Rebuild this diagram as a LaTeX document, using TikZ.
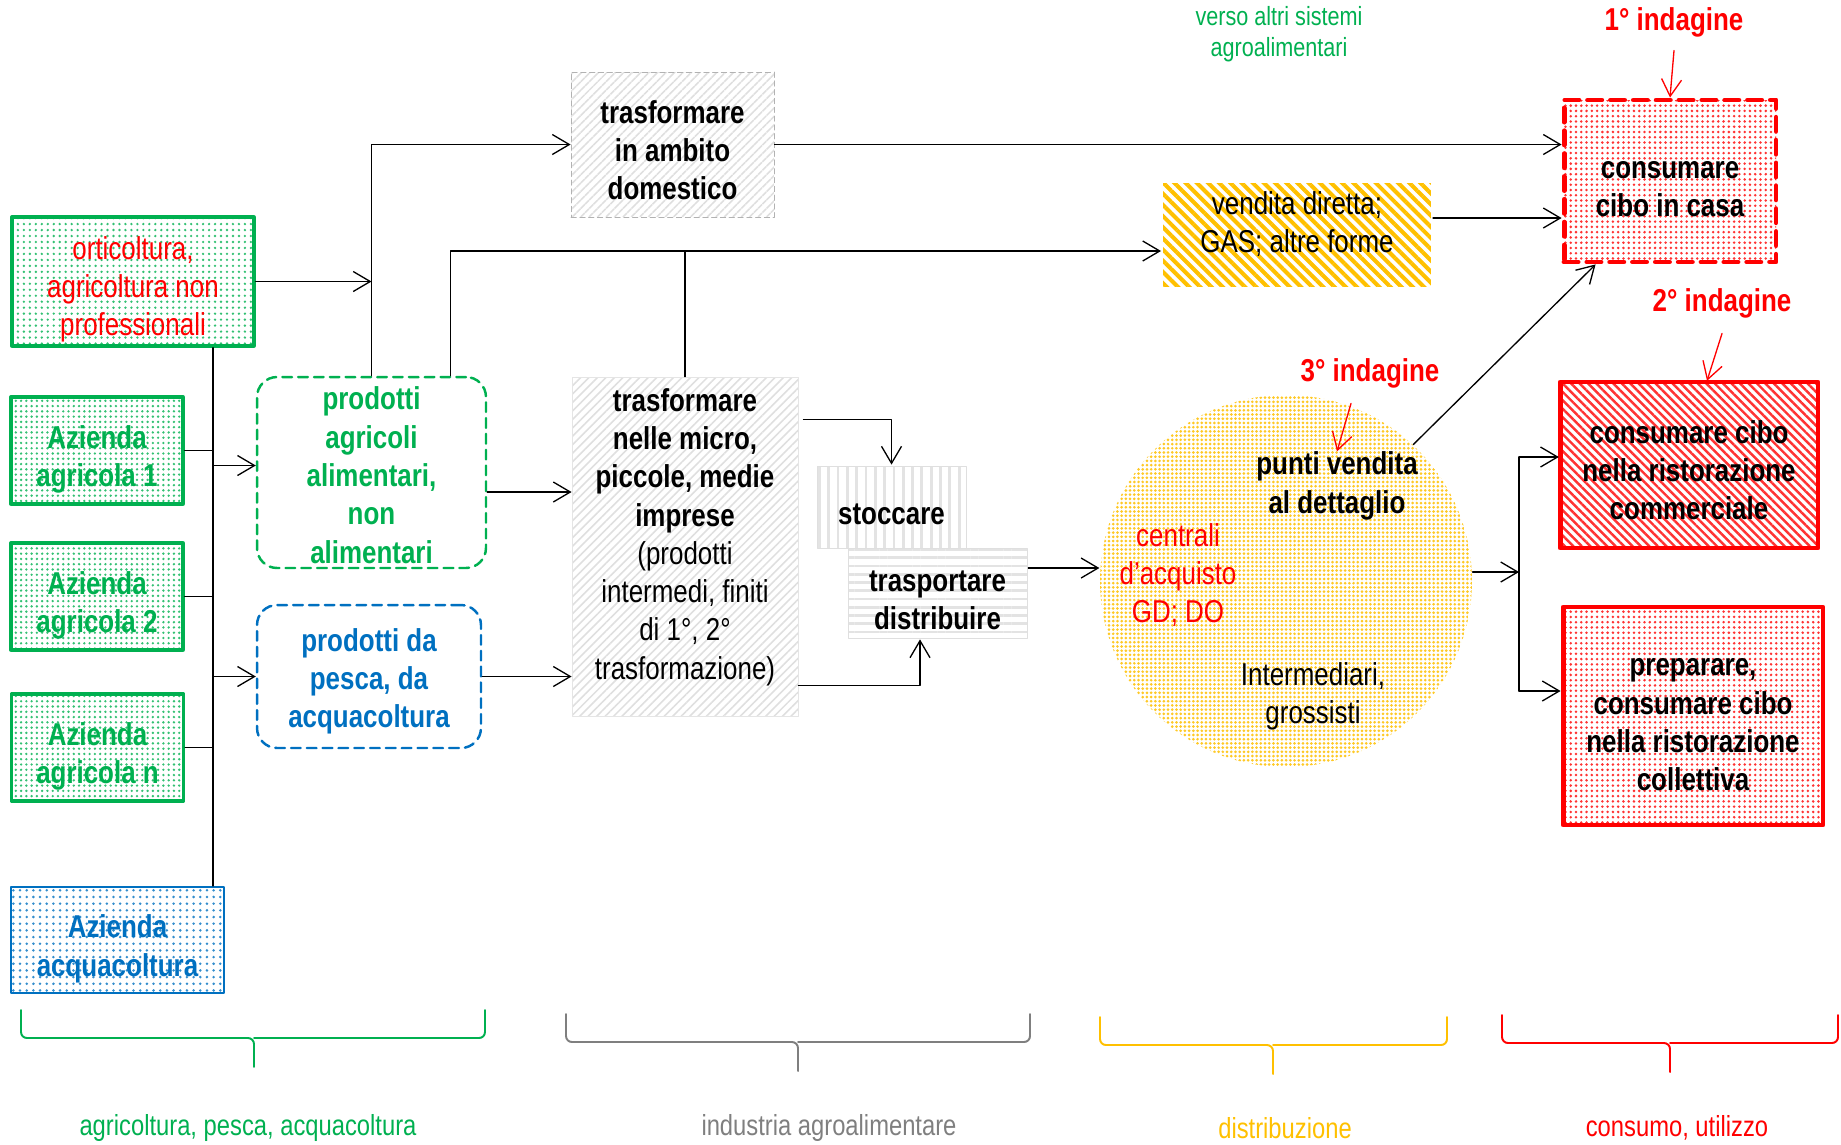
\documentclass[tikz,border=0pt]{standalone}
\usepackage{fontspec}
\setmainfont{Liberation Sans}[FakeStretch=0.82]
\usetikzlibrary{calc,arrows.meta,patterns.meta}
\definecolor{agrgreen}{HTML}{00B050}
\definecolor{aquablue}{HTML}{0070C0}
\definecolor{consred}{HTML}{FF0000}
\definecolor{distyellow}{HTML}{FFC000}
\definecolor{indgray}{HTML}{7F7F7F}
\newcommand{\boxtop}[1][21pt]{\rule{0pt}{#1}}
\newcommand{\boxbot}[1][14.5pt]{\rule[-#1]{0pt}{0pt}}
\tikzstyle{every node}=[font=\fontsize{18}{21.8}\selectfont,align=center,inner sep=0pt]
\tikzstyle{every path}=[line width=0.75pt,line cap=round,line join=round]
\tikzstyle{bold}=[font=\fontsize{18}{21.8}\selectfont\bfseries]
\tikzstyle{arr}=[-{Straight Barb[length=0.34cm,width=0.4cm]}]
\tikzstyle{redarr}=[arr,draw=consred]
\tikzstyle{farm}=[bold,draw=agrgreen,line width=1.9pt,text=agrgreen,pattern={Dots[distance=3pt,radius=0.75pt]},pattern color=agrgreen!80,minimum width=3.44cm,minimum height=2.14cm]
\tikzstyle{prodbox}=[bold,rounded corners=0.4cm,line width=1.4pt,dash pattern=on 5.5pt off 3.5pt,minimum width=4.58cm,minimum height=3.82cm]
\tikzstyle{hatchbox}=[bold,pattern={Lines[angle=45,distance=3.4pt,line width=0.9pt]},pattern color=gray!25]
\tikzstyle{consbox}=[bold,draw=consred,line width=2.8pt,pattern={Dots[distance=3pt,radius=0.8pt]},pattern color=consred!80]
\tikzstyle{indlabel}=[bold,text=consred]
\tikzstyle{sector}=[font=\fontsize{16.5}{20}\selectfont]

\begin{document}
\begin{tikzpicture}[x=0.02cm,y=-0.02cm]
    \useasboundingbox (0,0) rectangle (1841,1144);

    % Farms
    \node[farm,font=\fontsize{18}{21.5}\selectfont,text=consred,minimum width=4.84cm,minimum height=2.58cm,
      pattern={Dots[distance=3.4pt,radius=0.75pt]}] (ort) at (133,281.5) {\boxtop[22pt]orticoltura,\\agricoltura non\\professionali};
    \node[farm] (agr1) at (97,450.5) {\boxtop[23.5pt]Azienda\\agricola 1};
    \node[farm] (agr2) at (97,596.5) {\boxtop[23.5pt]Azienda\\agricola 2};
    \node[farm] (agrn) at (97.5,747.5) {\boxtop[23.5pt]Azienda\\agricola n};
    \node[farm,draw=aquablue,text=aquablue,line width=1.2pt,pattern color=aquablue!80,
      pattern={Dots[distance=3.8pt,radius=0.8pt]},minimum width=4.26cm,minimum height=2.12cm] (acq) at (117.5,940) {\boxtop[23pt]Azienda\\acquacoltura};

    % Products
    \node[prodbox,draw=agrgreen,text=agrgreen] (prodagr) at (371.5,472.5) {\boxtop[16pt]prodotti\\agricoli\\alimentari,\\non\\alimentari};
    \node[prodbox,draw=aquablue,text=aquablue,minimum width=4.48cm,minimum height=2.86cm] (prodpesca) at (369,676.5) {\boxtop[18.5pt]prodotti da\\pesca, da\\acquacoltura};

    % Industry
    \node[hatchbox,draw=gray!60,line width=0.5pt,densely dashed,minimum width=4.06cm,minimum height=2.9cm] (dom) at (672.5,144.5) {\boxtop[19.5pt]trasformare\\in ambito\\domestico};
    \node[hatchbox,draw=gray!20,line width=0.5pt,minimum width=4.52cm,minimum height=6.78cm] (micro) at (685,546.5)
      {trasformare\\nelle micro,\\piccole, medie\\imprese\\\mdseries(prodotti\\\mdseries intermedi, finiti\\\mdseries di 1°, 2°\\\mdseries trasformazione)\boxbot};
    \node[bold,draw=gray!25,line width=0.5pt,pattern={Lines[angle=90,distance=5.3pt,line width=1.6pt]},pattern color=gray!22,
      minimum width=2.98cm,minimum height=1.64cm] (stoc) at (891.5,507) {\boxtop[20pt]stoccare};
    \node[bold,draw=gray!25,line width=0.5pt,pattern={Lines[angle=0,distance=4.7pt,line width=1.6pt]},pattern color=gray!22,
      minimum width=3.58cm,minimum height=1.8cm] (trasp) at (937.5,593) {\boxtop[20pt]trasportare\\distribuire};

    % Distribution
    \node[pattern={Lines[angle=-45,distance=4.5pt,line width=2.3pt]},pattern color=distyellow,
      minimum width=5.36cm,minimum height=2.06cm] (vend) at (1297,234.5) {vendita diretta;\\GAS; altre forme\boxbot};
    \node[circle,minimum size=7.44cm,pattern={Dots[distance=2.4pt,radius=0.85pt]},pattern color=distyellow!85] (circ) at (1286,581) {};
    \node[bold] (punti) at (1337,486) {punti vendita\\al dettaglio};
    \node[text=consred] (centr) at (1178,575) {centrali\\d’acquisto\\GD; DO};
    \node (interm) at (1313,696) {Intermediari,\\grossisti};
    \node[text=agrgreen,font=\fontsize{15}{18}\selectfont] (verso) at (1279,34) {verso altri sistemi\\agroalimentari};

    % Consumption
    \node[consbox,dash pattern=on 8pt off 5pt,minimum width=4.24cm,minimum height=3.24cm] (casa) at (1670,181) {\boxtop[19pt]consumare\\cibo in casa};
    \node[consbox,pattern={Lines[angle=-45,distance=3.4pt,line width=1.4pt]},minimum width=5.16cm,minimum height=3.32cm] (comm) at (1689,465)
      {\boxtop[19pt]consumare cibo\\nella ristorazione\\commerciale};
    \node[consbox,minimum width=5.2cm,minimum height=4.36cm] (coll) at (1693,716) {\boxtop[20pt]preparare,\\consumare cibo\\nella ristorazione\\collettiva};
    \node[indlabel] (ind1) at (1674,22) {1° indagine};
    \node[indlabel] (ind2) at (1722,303) {2° indagine};
    \node[indlabel] (ind3) at (1370,373) {3° indagine};

    % Farms to products
    \coordinate (bus) at (213,0);
    \draw (ort.south -| bus) -- (acq.north -| bus);
    \draw (agr1.east) -- (agr1.east -| bus)
    (agr2.east) -- (agr2.east -| bus)
    (agrn.east) -- (agrn.east -| bus);
    \draw[arr] ($(prodagr.west -| bus)+(0,-7)$) -- ($(prodagr.west)+(0,-7)$);
    \draw[arr] (prodpesca.west -| bus) -- (prodpesca.west);

    % Products to transformation and direct sale
    \coordinate (vendin) at ($(vend.west)+(0,16.5)$);
    \draw[arr] (prodagr.north) |- (dom.west);
    \draw[arr] (ort.east) -- (ort.east -| prodagr.north);
    \draw[arr] ($(prodagr.north)+(79,0)$) |- (vendin);
    \draw (micro.north) -- (micro.north |- vendin);
    \draw[arr] ($(prodagr.east)+(0,19.5)$) -- ($(prodagr.east -| micro.west)+(0,19.5)$);
    \draw[arr] (prodpesca.east) -- (prodpesca.east -| micro.west);
    \draw[arr] (dom.east) -- (dom.east -| casa.west);
    \draw[arr] ($(vend.east)+(0,-16.5)$) -- ($(vend.east -| casa.west)+(0,-16.5)$);

    % Industry to distribution
    \draw[arr] ($(micro.north east)+(5,43)$) -| (stoc.north);
    \draw[arr] ($(micro.south east)+(0,-31)$) -| ($(trasp.south)+(-17.5,0)$);
    \draw[arr] ($(trasp.east)+(0,-25)$) -- ($(trasp.east -| circ.west)+(0,-25)$);

    % Distribution to consumption
    \coordinate (split) at (1519,572);
    \draw[arr] (circ.47) -- ($(casa.south west)+(34,0)$);
    \draw[arr] (circ.east |- split) -- (split);
    \draw ($(split |- comm.west)+(0,-8)$) -- ($(split |- coll.west)+(0,-25)$);
    \draw[arr] ($(split |- comm.west)+(0,-8)$) -- ($(comm.west)+(0,-8)$);
    \draw[arr] ($(split |- coll.west)+(0,-25)$) -- ($(coll.west)+(0,-25)$);

    % Surveys
    \draw[redarr] ($(ind1.south)+(0,13)$) -- (casa.north);
    \draw[redarr] ($(ind2.south)+(0,15)$) -- ($(comm.north)+(18,0)$);
    \draw[redarr] ($(ind3.south)+(-19,15)$) -- (punti.north);

    % Sectors
    \foreach \xa/\xb/\xc/\yl/\col in {21/485/254/1038/agrgreen,566/1030/798/1042/indgray,1100/1447/1273/1045/distyellow,1502/1838/1670/1043/consred}
    \draw[\col,line width=1.1pt,rounded corners=0.12cm] (\xa,\yl-28) |- (\xc,\yl) -- (\xc,\yl+29) (\xb,\yl-28) |- (\xc,\yl);
    \node[sector,text=agrgreen] (lagr) at (248,1128) {agricoltura, pesca, acquacoltura};
    \node[sector,text=indgray] (lind) at (829,1128) {industria agroalimentare};
    \node[sector,text=distyellow] (ldist) at (1285,1128) {distribuzione};
    \node[sector,text=consred] (lcons) at (1677,1128) {consumo, utilizzo};
\end{tikzpicture}
\end{document}
